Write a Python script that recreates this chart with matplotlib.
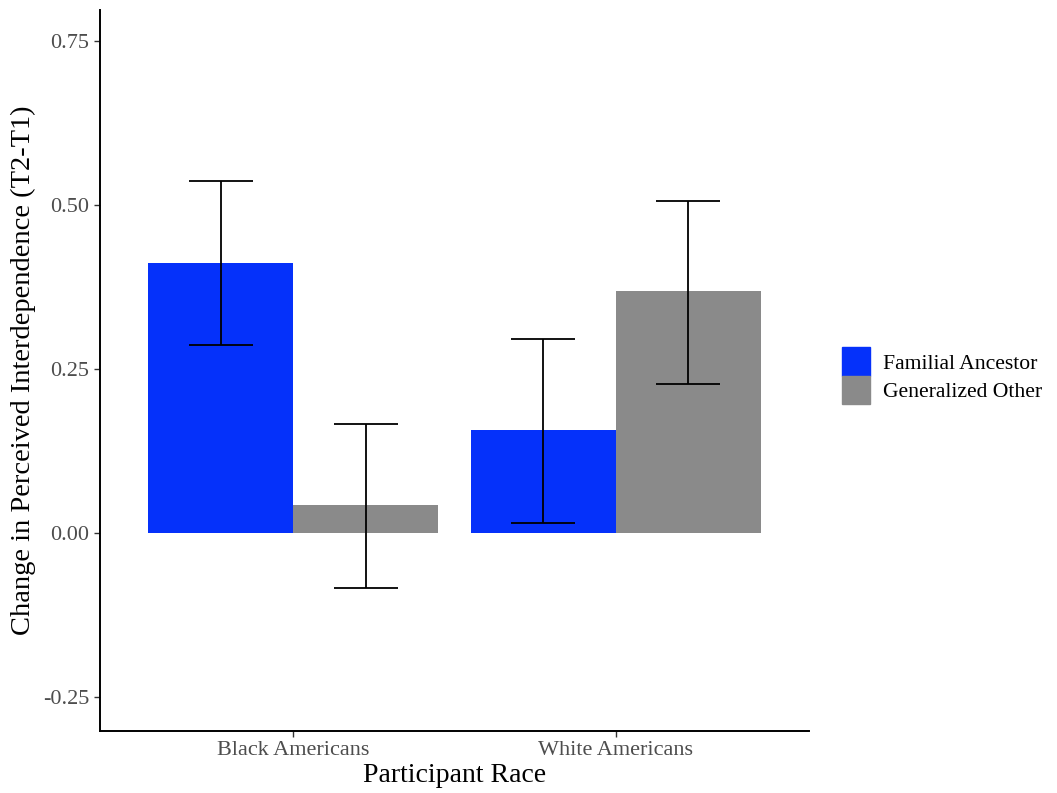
import matplotlib.pyplot as plt
import numpy as np
import matplotlib.patches as mpatches

plt.rcParams['font.family'] = ['Liberation Serif', 'DejaVu Serif']

# Data
races = ['Black Americans', 'White Americans']
conditions = ['Familial Ancestor', 'Generalized Other']
means_familial = [0.412, 0.157]
means_general = [0.043, 0.368]
lower_familial = [0.287, 0.015]
upper_familial = [0.537, 0.296]
lower_general = [-0.084, 0.227]
upper_general = [0.166, 0.506]

color_familial = '#0531FA'
color_general = '#8A8A8A'

fig = plt.figure(figsize=(10.57, 7.93), dpi=100)
ax = fig.add_axes([0.0946, 0.0782, 0.671, 0.9092])

x = np.arange(1, len(races) + 1)
width = 0.45

series = [
    (means_familial, lower_familial, upper_familial, color_familial, -width / 2),
    (means_general, lower_general, upper_general, color_general, width / 2),
]
for means, lo, hi, col, off in series:
    means = np.array(means)
    err = [means - np.array(lo), np.array(hi) - means]
    ax.bar(x + off, means, width=width, color=col, linewidth=0)
    ax.errorbar(x + off, means, yerr=err, fmt='none', ecolor='black',
                elinewidth=1.3, capsize=23, capthick=1.3)

ax.set_xlim(0.4, 2.6)
ax.set_ylim(-0.302, 0.797)
ax.set_xticks(x)
ax.set_xticklabels(races)
ax.set_yticks([-0.25, 0, 0.25, 0.5, 0.75])
ax.set_yticklabels(['-0.25', '0.00', '0.25', '0.50', '0.75'])
ax.tick_params(axis='both', colors='#333333', labelcolor='#4D4D4D',
               labelsize=16, length=4, width=1)

for side in ['top', 'right']:
    ax.spines[side].set_visible(False)
for side in ['left', 'bottom']:
    ax.spines[side].set_linewidth(1.4)
    ax.spines[side].set_color('black')

ax.set_xlabel('Participant Race', fontsize=20, labelpad=2)
ax.set_ylabel('Change in Perceived Interdependence (T2-T1)', fontsize=20.5, labelpad=5)

handles = [mpatches.Patch(color=color_familial, label=conditions[0]),
           mpatches.Patch(color=color_general, label=conditions[1])]
fig.legend(handles=handles, loc='center left', bbox_to_anchor=(0.786, 0.526),
           frameon=False, fontsize=15.6, handlelength=1.3, handleheight=1.65,
           handletextpad=0.6, labelspacing=0.0, borderpad=0)

fig.savefig('out.png', dpi=100)
